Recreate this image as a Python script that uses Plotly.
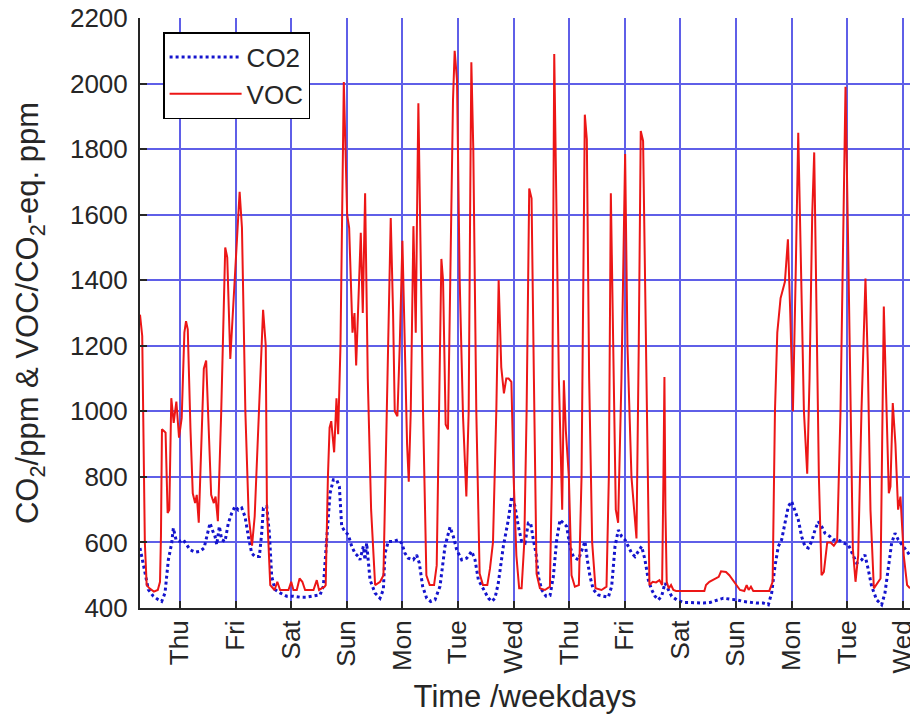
import plotly.graph_objects as go

# time in days (0 = first Thursday tick), values in ppm
day_labels = ["Thu", "Fri", "Sat", "Sun", "Mon", "Tue", "Wed",
              "Thu", "Fri", "Sat", "Sun", "Mon", "Tue", "Wed"]
day_ticks = list(range(len(day_labels)))

voc_t = [-0.72, -0.70, -0.68, -0.633, -0.60, -0.55, -0.47, -0.40, -0.36, -0.343, -0.325, -0.29, -0.26,
         -0.223, -0.193, -0.157, -0.114, -0.066, -0.018, 0.03, 0.078, 0.108, 0.139, 0.187, 0.229,
         0.271, 0.301, 0.337, 0.392, 0.428, 0.47, 0.512, 0.56, 0.608, 0.639, 0.681, 0.741, 0.813,
         0.849, 0.904, 0.982, 1.072, 1.114, 1.175, 1.235, 1.295, 1.343, 1.416, 1.494, 1.542, 1.563,
         1.623, 1.70, 1.75, 1.80, 1.95, 2.0, 2.04, 2.10, 2.15, 2.20, 2.25, 2.40, 2.46, 2.50, 2.60,
         2.62, 2.66, 2.69, 2.72, 2.75, 2.772, 2.814, 2.844, 2.886, 2.946, 3.006, 3.042, 3.102, 3.138,
         3.168, 3.216, 3.251, 3.287, 3.329, 3.377, 3.437, 3.509, 3.599, 3.659, 3.719, 3.79, 3.832,
         3.862, 3.91, 3.952, 4.0, 4.042, 4.084, 4.114, 4.15, 4.198, 4.222, 4.24, 4.263, 4.287, 4.317,
         4.371, 4.431, 4.491, 4.569, 4.617, 4.659, 4.701, 4.731, 4.778, 4.82, 4.868, 4.91, 4.94,
         4.982, 5.03, 5.09, 5.15, 5.192, 5.222, 5.24, 5.275, 5.329, 5.389, 5.449, 5.527, 5.575,
         5.629, 5.689, 5.731, 5.778, 5.826, 5.868, 5.91, 5.96, 6.0, 6.05, 6.1, 6.144, 6.192, 6.234,
         6.281, 6.323, 6.365, 6.413, 6.473, 6.563, 6.653, 6.689, 6.731, 6.766, 6.814, 6.874, 6.904,
         6.94, 6.994, 7.042, 7.102, 7.174, 7.222, 7.281, 7.317, 7.359, 7.413, 7.473, 7.581, 7.671,
         7.713, 7.749, 7.79, 7.838, 7.88, 7.94, 8.006, 8.048, 8.12, 8.21, 8.251, 8.287, 8.329, 8.371,
         8.419, 8.443, 8.503, 8.563, 8.623, 8.671, 8.695, 8.713, 8.731, 8.754, 8.79, 8.832, 8.874,
         8.922, 9.431, 9.461, 9.521, 9.581, 9.641, 9.689, 9.731, 9.82, 9.88, 9.94, 10.0, 10.072,
         10.15, 10.192, 10.228, 10.269, 10.311, 10.599, 10.659, 10.671, 10.701, 10.743, 10.802,
         10.88, 10.934, 10.976, 11.024, 11.072, 11.12, 11.162, 11.222, 11.281, 11.323, 11.371,
         11.407, 11.449, 11.491, 11.539, 11.581, 11.641, 11.701, 11.76, 11.82, 11.88, 11.928, 11.97,
         12.018, 12.06, 12.102, 12.15, 12.198, 12.257, 12.329, 12.371, 12.419, 12.48, 12.54, 12.60,
         12.629, 12.659, 12.701, 12.749, 12.778, 12.82, 12.868, 12.916, 12.958, 13.018, 13.078, 13.13]
voc_v = [1295, 1250, 1230, 600, 470, 460, 450, 455, 480, 620, 945, 940, 935,
         690, 700, 1040, 965, 1030, 920, 980, 1240, 1275, 1250, 950, 750,
         720, 745, 660, 950, 1130, 1155, 950, 745, 720, 740, 665, 1000, 1500,
         1470, 1160, 1400, 1670, 1560, 1000, 680, 590, 680, 1000, 1310, 1200, 705,
         470, 455, 480, 455, 455, 480, 455, 455, 490, 480, 455, 455, 485, 455, 465,
         470, 800, 950, 970, 900, 875, 1040, 930, 1200, 2005, 1600, 1560, 1240, 1300,
         1140, 1390, 1545, 1300, 1665, 1100, 700, 470, 480, 500, 1000, 1590, 1300,
         1000, 985, 1200, 1520, 1200, 900, 785, 1000, 1565, 1400, 1240, 1600, 1940, 1600,
         1000, 500, 470, 470, 530, 1000, 1465, 1400, 960, 945, 1500, 1950, 2100,
         2010, 1400, 985, 740, 1000, 1700, 2065, 1800, 1000, 505, 470, 470, 520,
         600, 1000, 1400, 1135, 1055, 1100, 1100, 1090, 800, 560, 460, 460, 600, 1000,
         1680, 1650, 1100, 505, 460, 455, 465, 800, 2090, 1700, 1100, 700, 1095,
         940, 800, 500, 465, 470, 800, 1905, 1830, 1100, 600, 460, 455, 465,
         800, 1665, 1200, 700, 660, 1100, 1785, 1200, 800, 612, 1200, 1855, 1825, 1300,
         700, 470, 480, 478, 485, 470, 800, 1105, 700, 480, 460, 470, 455,
         452, 452, 470, 480, 485, 490, 495, 512, 510, 500, 485, 470, 455,
         452, 470, 455, 465, 452, 452, 480, 600, 1000, 1240, 1345,
         1395, 1525, 1300, 1000, 1400, 1850, 1500, 1000, 810, 1100, 1600,
         1790, 1300, 800, 500, 510, 600, 600, 590, 605, 1000, 1500, 1990,
         1500, 1000, 580, 480, 560, 1000, 1405, 1150, 700, 460, 475, 490,
         900, 1320, 1050, 750, 770, 1025, 900, 700, 740, 560, 470, 460]

co2_t = [-0.72, -0.671, -0.629, -0.57, -0.48, -0.39, -0.33, -0.27, -0.21, -0.15, -0.12, -0.072, 0.0,
         0.06, 0.12, 0.18, 0.27, 0.36, 0.432, 0.48, 0.54, 0.581, 0.63, 0.66, 0.707, 0.75, 0.809,
         0.869, 0.929, 0.989, 1.049, 1.109, 1.169, 1.229, 1.289, 1.349, 1.427, 1.469, 1.499, 1.559,
         1.607, 1.649, 1.709, 1.799, 1.918, 2.038, 2.158, 2.278, 2.398, 2.518, 2.578, 2.638, 2.698,
         2.758, 2.818, 2.866, 2.908, 2.968, 3.028, 3.088, 3.147, 3.207, 3.237, 3.297, 3.327, 3.357,
         3.417, 3.507, 3.597, 3.657, 3.687, 3.747, 3.837, 3.927, 3.987, 4.047, 4.106, 4.196, 4.256,
         4.304, 4.364, 4.436, 4.508, 4.586, 4.676, 4.766, 4.856, 4.916, 4.976, 5.066, 5.156, 5.246,
         5.306, 5.366, 5.456, 5.546, 5.606, 5.665, 5.725, 5.815, 5.905, 5.965, 6.025, 6.085, 6.145,
         6.205, 6.265, 6.307, 6.355, 6.403, 6.445, 6.505, 6.583, 6.655, 6.715, 6.775, 6.835, 6.894,
         6.954, 7.014, 7.074, 7.164, 7.224, 7.284, 7.326, 7.374, 7.434, 7.524, 7.614, 7.704, 7.764,
         7.824, 7.884, 7.944, 8.004, 8.064, 8.124, 8.183, 8.243, 8.303, 8.363, 8.423, 8.483, 8.543,
         8.603, 8.663, 8.723, 8.783, 8.843, 8.933, 9.053, 9.173, 9.293, 9.412, 9.532, 9.652, 9.772,
         9.892, 10.012, 10.132, 10.252, 10.372, 10.492, 10.582, 10.642, 10.701, 10.761, 10.821,
         10.881, 10.941, 11.001, 11.061, 11.121, 11.181, 11.241, 11.301, 11.361, 11.421, 11.481,
         11.541, 11.601, 11.691, 11.751, 11.841, 11.931, 12.021, 12.111, 12.171, 12.261, 12.32,
         12.38, 12.44, 12.53, 12.62, 12.68, 12.74, 12.8, 12.86, 12.92, 13.01, 13.13]
co2_v = [583, 547, 507, 456, 436, 425, 420, 446, 547, 598, 644, 608, 603,
         608, 593, 578, 570, 573, 583, 618, 659, 638, 618, 593, 649, 608, 603,
         659, 689, 710, 699, 705, 679, 618, 567, 557, 557, 628, 705, 710,
         628, 496, 456, 446, 436, 436, 433, 433, 436, 440, 466, 598, 750,
         791, 791, 770, 649, 633, 623, 588, 567, 557, 547, 588, 547, 598,
         486, 446, 430, 456, 567, 603, 603, 608, 598, 567, 552, 547, 562,
         537, 466, 430, 420, 425, 466, 588, 647, 618, 578, 547, 552, 573,
         547, 486, 456, 430, 420, 430, 476, 588, 669, 740, 710, 649, 603,
         598, 659, 659, 608, 567, 496, 456, 436, 438, 496, 608, 669, 659,
         649, 588, 557, 547, 578, 603, 547, 496, 456, 440, 436, 433, 466,
         588, 638, 618, 608, 588, 567, 557, 573, 588, 547, 486, 456, 436,
         425, 436, 476, 456, 436, 425, 417, 417, 415, 415, 417, 423, 430,
         427, 425, 420, 417, 415, 415, 410, 446, 527, 588, 608,
         659, 710, 725, 699, 669, 618, 588, 583, 603, 638, 664,
         649, 628, 618, 608, 608, 598, 593, 557, 537, 547, 562,
         517, 466, 425, 410, 446, 527, 598, 628, 608, 588, 560]

y_ticks = [400, 600, 800, 1000, 1200, 1400, 1600, 1800, 2000, 2200]

FONT = "Liberation Sans, Arial, Helvetica, sans-serif"
TXT = "#262626"
GRID = "rgb(95,95,232)"

fig = go.Figure()
fig.add_trace(go.Scatter(x=co2_t, y=co2_v, mode="lines", name="CO2",
                         line=dict(color="rgb(20,20,205)", width=3, dash="dot")))
fig.add_trace(go.Scatter(x=voc_t, y=voc_v, mode="lines", name="VOC",
                         line=dict(color="rgb(236,22,22)", width=2)))

fig.update_layout(
    width=910, height=722,
    margin=dict(l=140, r=0, t=18, b=114, autoexpand=False),
    paper_bgcolor="white", plot_bgcolor="white",
    font=dict(family=FONT, color=TXT, size=26),
    showlegend=True,
    legend=dict(x=0.03, y=0.976, xanchor="left", yanchor="top",
                bgcolor="white", bordercolor="black", borderwidth=1.5,
                itemwidth=72,
                font=dict(size=26, family=FONT, color=TXT), tracegroupgap=0),
    xaxis=dict(range=[-0.72, 13.13], tickmode="array", tickvals=day_ticks, ticktext=day_labels,
               tickangle=-90, ticks="inside", ticklen=7, tickwidth=1.5, tickcolor="#262626",
               showgrid=True, gridcolor=GRID, gridwidth=1.5,
               showline=True, linecolor="#262626", linewidth=2, mirror=False,
               zeroline=False, ticklabelstandoff=0, ticklabeloverflow="allow",
               tickfont=dict(size=26, family=FONT, color=TXT),
               title=dict(text="Time /weekdays", font=dict(size=31, family=FONT, color=TXT),
                          standoff=13)),
    yaxis=dict(range=[400, 2200], tickmode="array", tickvals=y_ticks,
               ticks="inside", ticklen=7, tickwidth=1.5, tickcolor="#262626",
               showgrid=True, gridcolor=GRID, gridwidth=1.5,
               showline=True, linecolor="#262626", linewidth=2, mirror=False,
               zeroline=False, ticklabelstandoff=5,
               tickfont=dict(size=26, family=FONT, color=TXT),
               title=dict(text="CO<sub>2</sub>/ppm &amp; VOC/CO<sub>2</sub>-eq. ppm",
                          font=dict(size=31, family=FONT, color=TXT), standoff=22)),
)

fig.write_html("out.html")
